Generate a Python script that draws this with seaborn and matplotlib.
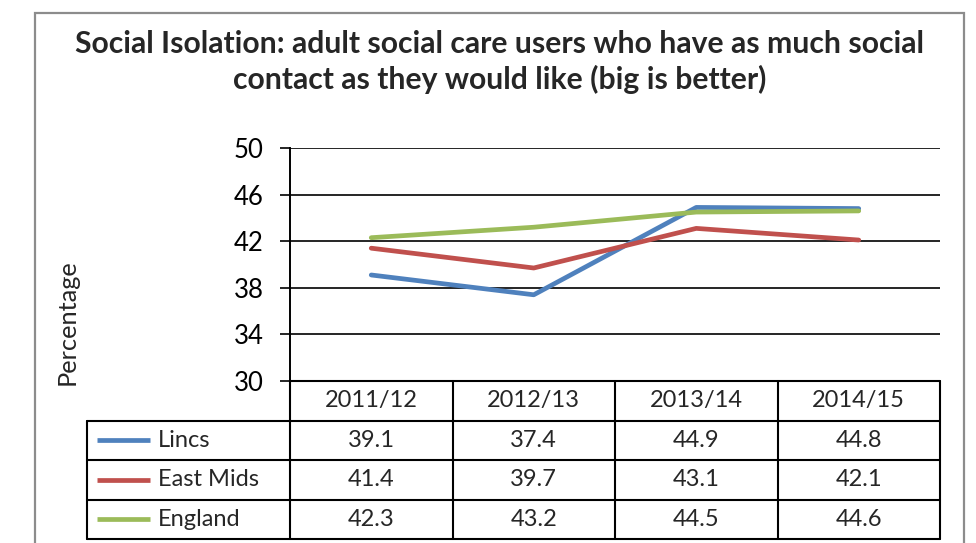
import matplotlib
matplotlib.use("Agg")
import matplotlib.pyplot as plt
from matplotlib.patches import Rectangle
import seaborn as sns
import pandas as pd

years = ["2011/12", "2012/13", "2013/14", "2014/15"]
series_names = ["Lincs", "East Mids", "England"]
lincs = [39.1, 37.4, 44.9, 44.8]
east_mids = [41.4, 39.7, 43.1, 42.1]
england = [42.3, 43.2, 44.5, 44.6]
colors = ["#4F81BD", "#C0504D", "#9BBB59"]
yticks = [30, 34, 38, 42, 46, 50]
title = "Social Isolation: adult social care users who have as much social\ncontact as they would like (big is better)"
ylabel = "Percentage"

values = [lincs, east_mids, england]
df = pd.DataFrame({
    "year": years * 3,
    "pos": list(range(len(years))) * 3,
    "series": [s for s in series_names for _ in years],
    "value": lincs + east_mids + england,
})

sns.set_theme(style="white")
plt.rcParams["font.family"] = ["Lato", "DejaVu Sans"]

W, H = 976, 543
fig = plt.figure(figsize=(W / 100, H / 100), dpi=100)
fig.patch.set_facecolor("white")

def fx(px):
    return px / W

def fy(py):
    return 1 - py / H

# outer chart border
fig.patches.append(Rectangle((fx(35), fy(560)), fx(964) - fx(35), fy(13) - fy(560),
                             transform=fig.transFigure, fill=False,
                             edgecolor="#8c8c8c", linewidth=1.6, clip_on=False))

ax = fig.add_axes([fx(290), fy(381), fx(940) - fx(290), fy(148) - fy(381)])
sns.lineplot(data=df, x="pos", y="value", hue="series", palette=colors,
             hue_order=series_names, linewidth=3.4, legend=False, ax=ax)
ax.set_xlim(-0.5, 3.5)
ax.set_ylim(30, 50)
ax.set_yticks(yticks)
ax.set_yticklabels([str(t) for t in yticks], fontsize=18.5, color="black")
ax.tick_params(axis="y", length=7, width=1.2, color="black", pad=12, left=True, direction="out")
ax.set_xticks([])
ax.set_xlabel("")
ax.set_ylabel("")
for y in yticks:
    ax.axhline(y, color="black", linewidth=1.2, zorder=0)
for s in ["top", "right", "bottom"]:
    ax.spines[s].set_visible(False)
ax.spines["left"].set_color("black")
ax.spines["left"].set_linewidth(1.4)
ax.set_facecolor("none")

fig.text(fx(67), fy(322), ylabel, rotation=90, ha="center", va="center", fontsize=18.3)
fig.text(fx(500), fy(62), title, ha="center", va="center", fontsize=21.7,
         fontweight="bold", linespacing=1.3)

# data table
x_left = -0.5 - (290 - 87) / 162.5
tax = fig.add_axes([fx(87), fy(539), fx(940) - fx(87), fy(381) - fy(539)])
tax.set_xlim(x_left, 3.5)
tax.set_ylim(4, 0)
tax.axis("off")
lw = 1.5
tax.plot([-0.5, 3.5], [0, 0], color="black", lw=lw, clip_on=False)
for r in [1, 2, 3, 4]:
    tax.plot([x_left, 3.5], [r, r], color="black", lw=lw, clip_on=False)
tax.plot([x_left, x_left], [1, 4], color="black", lw=lw, clip_on=False)
for c in [-0.5, 0.5, 1.5, 2.5, 3.5]:
    tax.plot([c, c], [0, 4], color="black", lw=lw, clip_on=False)
fs = 17
for i, yr in enumerate(years):
    tax.text(i, 0.5, yr, ha="center", va="center", fontsize=fs)
for r, (name, vals, col) in enumerate(zip(series_names, values, colors), start=1):
    tax.plot([-1.688, -1.362], [r + 0.5, r + 0.5], color=col, lw=3.4, solid_capstyle="butt")
    tax.text(-1.312, r + 0.5, name, ha="left", va="center", fontsize=fs)
    for i, v in enumerate(vals):
        tax.text(i, r + 0.5, f"{v:.1f}", ha="center", va="center", fontsize=fs)

fig.savefig("out.png", dpi=100, facecolor="white")
